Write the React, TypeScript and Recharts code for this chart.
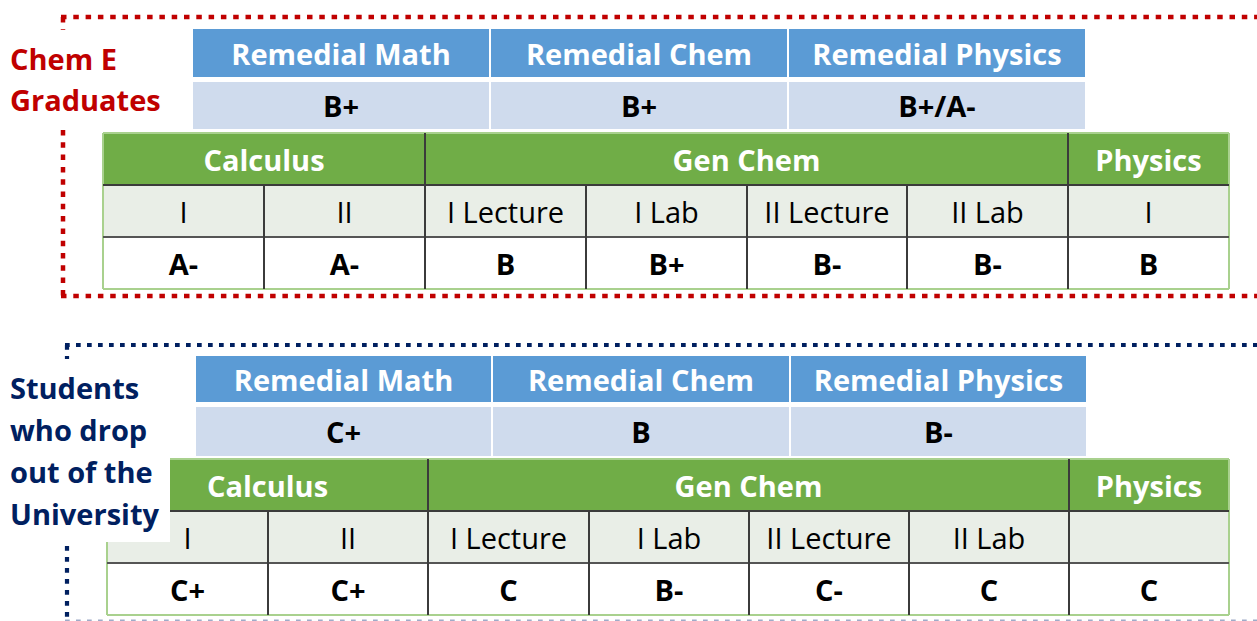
import React from 'react';
import { ComposedChart, XAxis, YAxis, ReferenceArea, ReferenceLine, Scatter } from 'recharts';

// ---------- data ----------
const remedialSubjects = ['Remedial Math', 'Remedial Chem', 'Remedial Physics'];
const courseGroups = ['Calculus', 'Gen Chem', 'Physics'];
const courseGroupSpans = [2, 4, 1];

const gradLabelLines = ['Chem E', 'Graduates'];
const gradRemedialGrades = ['B+', 'B+', 'B+/A-'];
const gradCourseLevels = ['I', 'II', 'I Lecture', 'I Lab', 'II Lecture', 'II Lab', 'I'];
const gradCourseGrades = ['A-', 'A-', 'B', 'B+', 'B-', 'B-', 'B'];

const dropLabelLines = ['Students', 'who drop', 'out of the', 'University'];
const dropRemedialGrades = ['C+', 'B', 'B-'];
const dropCourseLevels = ['I', 'II', 'I Lecture', 'I Lab', 'II Lecture', 'II Lab', ''];
const dropCourseGrades = ['C+', 'C+', 'C', 'B-', 'C-', 'C', 'C'];

// ---------- layout & style ----------
const W = 1257;
const H = 621;
const FONT = '"Open Sans", "DejaVu Sans", sans-serif';
const FS = 29;
const BASE_OFF = 11.5;
const COL = {
  blue: '#5b9bd5',
  light: '#cfdbed',
  green: '#70ad47',
  grey: '#e9eee7',
  dark: '#3b3b3b',
  mid: '#555555',
  outline: '#a9d18e',
  red: '#c00000',
  navy: '#002060',
};

type Section = {
  labels: string[];
  remedialGrades: string[];
  levels: string[];
  grades: string[];
  blueX: number[];
  blueY: [number, number];
  lightY: [number, number];
  gridX: number[];
  greenY: [number, number];
  greyY: [number, number];
  whiteY: [number, number];
  box: { x1: number; y1: number; x2: number; y2: number };
  border: {
    left: number; top: number; bottom: number; color: string; bottomColor: string;
    bottomWidth: number; width: number; dash: string;
  };
  labelX: number;
  labelBaselines: number[];
  labelColor: string;
};

const sections: Section[] = [
  {
    labels: gradLabelLines,
    remedialGrades: gradRemedialGrades,
    levels: gradCourseLevels,
    grades: gradCourseGrades,
    blueX: [192, 490, 788, 1086],
    blueY: [28, 78],
    lightY: [81, 130],
    gridX: [103, 264, 425, 586, 747, 907, 1068, 1229],
    greenY: [133, 185],
    greyY: [185, 237],
    whiteY: [237, 289],
    box: { x1: 0, y1: 30, x2: 180, y2: 126 },
    border: { left: 63, top: 17, bottom: 296, color: COL.red, bottomColor: COL.red, bottomWidth: 4.5, width: 4.5, dash: '5.5 6.8' },
    labelX: 10,
    labelBaselines: [70, 111],
    labelColor: COL.red,
  },
  {
    labels: dropLabelLines,
    remedialGrades: dropRemedialGrades,
    levels: dropCourseLevels,
    grades: dropCourseGrades,
    blueX: [195, 492, 790, 1087],
    blueY: [355, 403],
    lightY: [406, 457],
    gridX: [107, 268, 428, 589, 749, 909, 1069, 1229],
    greenY: [459, 511],
    greyY: [511, 563],
    whiteY: [563, 615],
    box: { x1: 0, y1: 359, x2: 170, y2: 542 },
    border: { left: 67, top: 345, bottom: 620.5, color: COL.navy, bottomColor: '#9fabc8', bottomWidth: 2, width: 4.2, dash: '4.7 6.3' },
    labelX: 10,
    labelBaselines: [399, 441, 483, 525],
    labelColor: COL.navy,
  },
];

type TextItem = { x: number; y: number; text: string; kind: 'header' | 'grade' | 'level' | 'side'; color?: string };

const cellTexts: TextItem[] = [];
const sideTexts: TextItem[] = [];
sections.forEach((s) => {
  remedialSubjects.forEach((t, i) => {
    cellTexts.push({ x: (s.blueX[i] + s.blueX[i + 1]) / 2, y: (s.blueY[0] + s.blueY[1]) / 2, text: t, kind: 'header' });
  });
  s.remedialGrades.forEach((t, i) => {
    cellTexts.push({ x: (s.blueX[i] + s.blueX[i + 1]) / 2, y: (s.lightY[0] + s.lightY[1]) / 2, text: t, kind: 'grade' });
  });
  let c = 0;
  courseGroups.forEach((g, gi) => {
    const a = s.gridX[c];
    const b = s.gridX[c + courseGroupSpans[gi]];
    cellTexts.push({ x: (a + b) / 2, y: (s.greenY[0] + s.greenY[1]) / 2, text: g, kind: 'header' });
    c += courseGroupSpans[gi];
  });
  s.levels.forEach((t, i) => {
    cellTexts.push({ x: (s.gridX[i] + s.gridX[i + 1]) / 2, y: (s.greyY[0] + s.greyY[1]) / 2, text: t, kind: 'level' });
  });
  s.grades.forEach((t, i) => {
    cellTexts.push({ x: (s.gridX[i] + s.gridX[i + 1]) / 2, y: (s.whiteY[0] + s.whiteY[1]) / 2, text: t, kind: 'grade' });
  });
  s.labels.forEach((t, i) => {
    sideTexts.push({ x: s.labelX, y: s.labelBaselines[i], text: t, kind: 'side', color: s.labelColor });
  });
});

const CellText = (props: any) => {
  const { cx, cy, payload } = props;
  if (cx == null || cy == null || !payload || !payload.text) return <g />;
  const isHeader = payload.kind === 'header';
  const bold = payload.kind !== 'level';
  return (
    <text
      x={cx}
      y={cy + BASE_OFF}
      textAnchor="middle"
      fontFamily={FONT}
      fontSize={FS}
      fontWeight={bold ? 700 : 400}
      fill={isHeader ? '#ffffff' : '#000000'}
    >
      {payload.text}
    </text>
  );
};

const SideText = (props: any) => {
  const { cx, cy, payload } = props;
  if (cx == null || cy == null || !payload) return <g />;
  return (
    <text x={cx} y={cy} textAnchor="start" fontFamily={FONT} fontSize={FS} fontWeight={700} fill={payload.color}>
      {payload.text}
    </text>
  );
};

function seg(key: string, x1: number, y1: number, x2: number, y2: number, stroke: string, width: number, dash?: string) {
  return (
    <ReferenceLine
      key={key}
      segment={[{ x: x1, y: y1 }, { x: x2, y: y2 }]}
      stroke={stroke}
      strokeWidth={width}
      strokeDasharray={dash}
      ifOverflow="visible"
    />
  );
}

function area(key: string, x1: number, x2: number, y1: number, y2: number, fill: string, stroke?: string, sw?: number) {
  return (
    <ReferenceArea
      key={key}
      x1={x1}
      x2={x2}
      y1={y1}
      y2={y2}
      fill={fill}
      fillOpacity={1}
      stroke={stroke || 'none'}
      strokeWidth={sw || 0}
      ifOverflow="visible"
    />
  );
}

export default function App() {
  const areas: React.ReactNode[] = [];
  const boxes: React.ReactNode[] = [];
  const lines: React.ReactNode[] = [];

  sections.forEach((s, si) => {
    const k = `s${si}`;
    // remedial header & grade rows
    for (let i = 0; i < 3; i++) {
      areas.push(area(`${k}b${i}`, s.blueX[i], s.blueX[i + 1], s.blueY[0], s.blueY[1], COL.blue, '#ffffff', 2));
      areas.push(area(`${k}l${i}`, s.blueX[i], s.blueX[i + 1], s.lightY[0], s.lightY[1], COL.light, '#ffffff', 2));
    }
    // course table
    areas.push(area(`${k}g`, s.gridX[0], s.gridX[7], s.greenY[0], s.greenY[1], COL.green));
    areas.push(area(`${k}gr`, s.gridX[0], s.gridX[7], s.greyY[0], s.greyY[1], COL.grey));
    areas.push(area(`${k}w`, s.gridX[0], s.gridX[7], s.whiteY[0], s.whiteY[1], '#ffffff'));

    // white box behind side label
    boxes.push(area(`${k}box`, s.box.x1, s.box.x2, s.box.y1, s.box.y2, '#ffffff'));

    const bx = s.box.x2;
    const by = s.box.y2;
    const hx = (y: number) => (y < by ? Math.max(s.gridX[0], bx) : s.gridX[0]);
    const vy = (x: number, y: number) => (x < bx ? Math.max(y, by) : y);

    // outer light-green outline
    lines.push(seg(`${k}ot`, hx(s.greenY[0]), s.greenY[0], s.gridX[7], s.greenY[0], COL.outline, 2));
    lines.push(seg(`${k}ob`, s.gridX[0], s.whiteY[1], s.gridX[7], s.whiteY[1], COL.outline, 2));
    lines.push(seg(`${k}or`, s.gridX[7], s.greenY[0], s.gridX[7], s.whiteY[1], COL.outline, 2));
    lines.push(seg(`${k}ol`, s.gridX[0], vy(s.gridX[0], s.greenY[0]), s.gridX[0], s.whiteY[1], COL.outline, 2));

    // inner dark lines
    lines.push(seg(`${k}h1`, hx(s.greyY[0]), s.greyY[0], s.gridX[7], s.greyY[0], COL.dark, 2));
    lines.push(seg(`${k}h2`, s.gridX[0], s.whiteY[0], s.gridX[7], s.whiteY[0], COL.mid, 2));
    let c = 0;
    courseGroupSpans.slice(0, -1).forEach((span, gi) => {
      c += span;
      lines.push(seg(`${k}gv${gi}`, s.gridX[c], s.greenY[0], s.gridX[c], s.greenY[1], COL.dark, 2));
    });
    for (let i = 1; i < 7; i++) {
      lines.push(seg(`${k}v${i}`, s.gridX[i], s.greyY[0], s.gridX[i], s.whiteY[1], COL.dark, 2));
    }

    // dotted section border
    const b = s.border;
    lines.push(seg(`${k}dt`, b.left - 2, b.top, W + 6, b.top, b.color, b.width, b.dash));
    lines.push(seg(`${k}db`, b.left - 2, b.bottom, W + 6, b.bottom, b.bottomColor, b.bottomWidth, b.dash));
    lines.push(seg(`${k}dl1`, b.left, b.top, b.left, s.box.y1, b.color, b.width, b.dash));
    lines.push(seg(`${k}dl2`, b.left, s.box.y2 + 4, b.left, b.bottom, b.color, b.width, b.dash));
  });

  return (
    <div style={{ position: 'absolute', left: 0, top: 0, width: W, height: H, background: '#ffffff' }}>
      <ComposedChart width={W} height={H} margin={{ top: 0, right: 0, bottom: 0, left: 0 }}>
        <XAxis dataKey="x" type="number" domain={[0, W]} allowDataOverflow hide />
        <YAxis dataKey="y" type="number" domain={[0, H]} allowDataOverflow reversed hide />
        {areas}
        {boxes}
        {lines}
        <Scatter data={cellTexts} shape={<CellText />} isAnimationActive={false} />
        <Scatter data={sideTexts} shape={<SideText />} isAnimationActive={false} />
      </ComposedChart>
    </div>
  );
}
